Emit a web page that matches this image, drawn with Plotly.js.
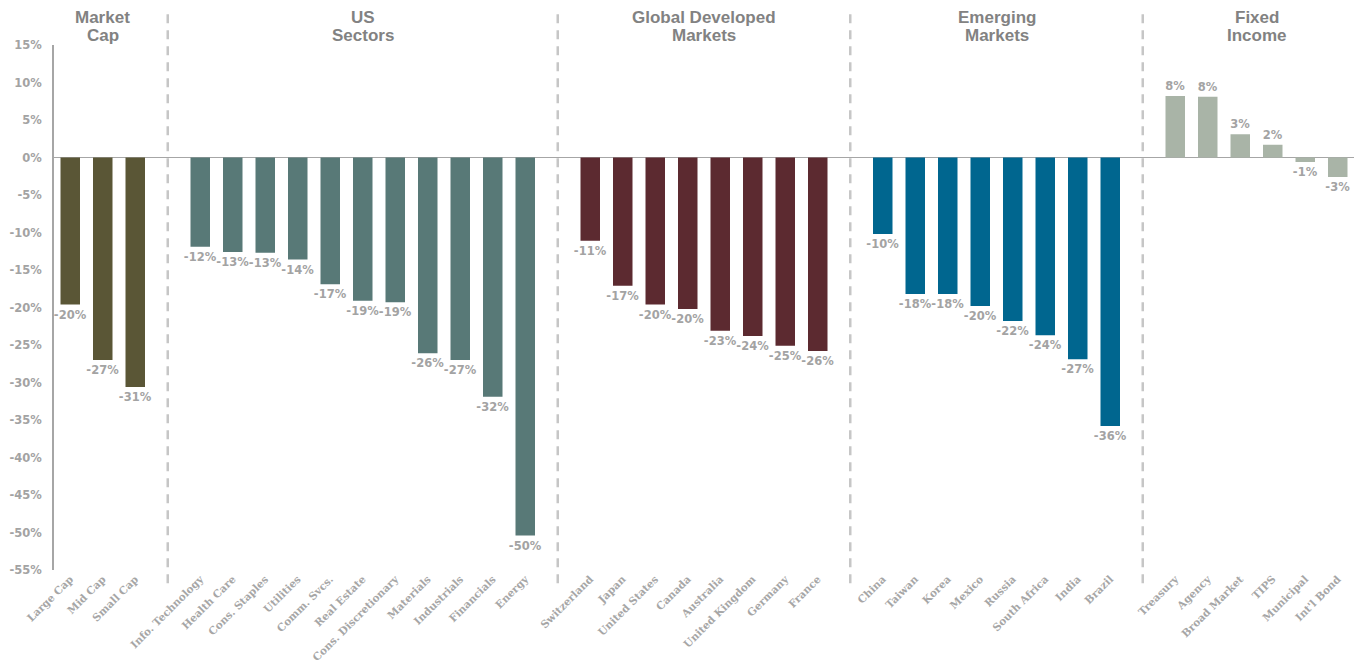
<!DOCTYPE html>
<html>
<head>
<meta charset="utf-8">
<script src="https://cdn.plot.ly/plotly-3.0.1.min.js"></script>
<style>html,body{margin:0;padding:0;background:#fff;}#chart{width:1358px;height:666px;}</style>
</head>
<body>
<div id="chart"></div>
<script>
// ---- data ----
const groupTitles = ["Market<br>Cap", "US<br>Sectors", "Global Developed<br>Markets", "Emerging<br>Markets", "Fixed<br>Income"];
const groupColors = ["#5a5636", "#587977", "#5c2a30", "#00668f", "#a9b4a7"];

const marketCapLabels = ["Large Cap", "Mid Cap", "Small Cap"];
const marketCapValues = [-19.6, -27.0, -30.6];

const usSectorLabels = ["Info. Technology", "Health Care", "Cons. Staples", "Utilities", "Comm. Svcs.", "Real Estate", "Cons. Discretionary", "Materials", "Industrials", "Financials", "Energy"];
const usSectorValues = [-11.9, -12.6, -12.7, -13.6, -16.9, -19.1, -19.3, -26.1, -27.0, -31.9, -50.4];

const globalDevLabels = ["Switzerland", "Japan", "United States", "Canada", "Australia", "United Kingdom", "Germany", "France"];
const globalDevValues = [-11.1, -17.1, -19.6, -20.2, -23.1, -23.8, -25.1, -25.8];

const emergingLabels = ["China", "Taiwan", "Korea", "Mexico", "Russia", "South Africa", "India", "Brazil"];
const emergingValues = [-10.2, -18.2, -18.2, -19.8, -21.8, -23.7, -26.9, -35.8];

const fixedIncomeLabels = ["Treasury", "Agency", "Broad Market", "TIPS", "Municipal", "Int'l Bond"];
const fixedIncomeValues = [8.2, 8.1, 3.1, 1.7, -0.6, -2.6];

const yTickVals = [15, 10, 5, 0, -5, -10, -15, -20, -25, -30, -35, -40, -45, -50, -55];
const yTickText = ["15%", "10%", "5%", "0%", "-5%", "-10%", "-15%", "-20%", "-25%", "-30%", "-35%", "-40%", "-45%", "-50%", "-55%"];

// ---- build ----
const groups = [
  [marketCapLabels, marketCapValues],
  [usSectorLabels, usSectorValues],
  [globalDevLabels, globalDevValues],
  [emergingLabels, emergingValues],
  [fixedIncomeLabels, fixedIncomeValues]
];

const traces = [];
const tickvals = [], ticktext = [];
const shapes = [], annotations = [];
const titleLineY = [1.0533, 1.019];
let pos = 0;
groups.forEach((g, gi) => {
  const [labels, values] = g;
  const xs = labels.map((_, i) => pos + i);
  xs.forEach((x, i) => { tickvals.push(x); ticktext.push(labels[i]); });
  traces.push({
    type: 'bar',
    x: xs,
    y: values,
    width: 0.6,
    marker: {color: groupColors[gi], line: {width: 0}},
    text: values.map(v => Math.round(v) + '%'),
    textposition: 'outside',
    constraintext: 'none',
    cliponaxis: false,
    textfont: {family: 'DejaVu Sans', size: 11.5, color: '#a3a3a3', weight: 'bold'},
    hoverinfo: 'x+y',
    showlegend: false
  });
  const center = (xs[0] + xs[xs.length - 1]) / 2;
  groupTitles[gi].split('<br>').forEach((line, li) => {
    annotations.push({
      xref: 'x', yref: 'paper', x: center, y: titleLineY[li], yanchor: 'middle',
      text: '<b>' + line + '</b>', showarrow: false,
      font: {family: 'Liberation Sans, Arial', size: 17, color: '#828282'},
      align: 'center'
    });
  });
  pos += labels.length;
  if (gi < groups.length - 1) {
    shapes.push({
      type: 'line', xref: 'x', yref: 'paper', x0: pos, x1: pos, y0: -0.025, y1: 1.07,
      line: {color: '#c6c6c6', width: 2.5, dash: '9px,7px'}
    });
    pos += 1;
  }
});

const layout = {
  width: 1358, height: 666,
  margin: {l: 54, r: 4, t: 45, b: 96},
  paper_bgcolor: '#fff', plot_bgcolor: '#fff',
  bargap: 0.4,
  xaxis: {
    range: [-0.5, pos - 0.5],
    tickvals: tickvals, ticktext: ticktext,
    tickangle: -45,
    tickfont: {family: 'DejaVu Serif', size: 10.5, color: '#a6a6a6', weight: 'bold'},
    showgrid: false, zeroline: false, showline: false, ticks: '',
    fixedrange: true
  },
  yaxis: {
    range: [-55, 15],
    tickvals: yTickVals, ticktext: yTickText,
    tickfont: {family: 'DejaVu Sans', size: 11.5, color: '#a3a3a3', weight: 'bold'},
    showgrid: false,
    zeroline: true, zerolinecolor: '#a6a6a6', zerolinewidth: 1.5,
    showline: true, linecolor: '#a6a6a6', linewidth: 2,
    ticks: '', ticklabelstandoff: 8,
    fixedrange: true
  },
  shapes: shapes,
  annotations: annotations
};

Plotly.newPlot('chart', traces, layout, {displayModeBar: false, staticPlot: true});
</script>
</body>
</html>
